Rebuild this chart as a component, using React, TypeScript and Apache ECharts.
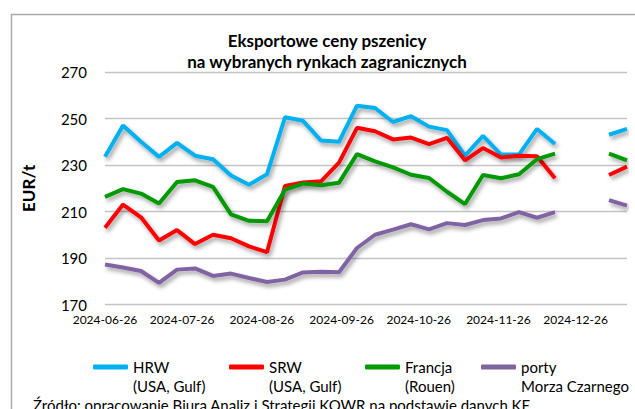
import React, { useEffect, useRef } from "react";
import * as echarts from "echarts";

const dates = [
  "2024-06-26", "2024-07-03", "2024-07-10", "2024-07-17", "2024-07-24", "2024-07-31",
  "2024-08-07", "2024-08-14", "2024-08-21", "2024-08-28", "2024-09-04", "2024-09-11",
  "2024-09-18", "2024-09-25", "2024-10-02", "2024-10-09", "2024-10-16", "2024-10-23",
  "2024-10-30", "2024-11-06", "2024-11-13", "2024-11-20", "2024-11-27", "2024-12-04",
  "2024-12-11", "2024-12-18", "2024-12-25", "2025-01-01", "2025-01-08", "2025-01-15",
];

const hrw = [233.5, 247, 240, 233.5, 239.5, 234, 232.5, 225.5, 221.5, 226, 250.5, 249, 240.5, 240, 255.5, 254.5, 248.5, 251, 246.5, 245, 234, 242.5, 234.5, 234.5, 245.5, 239, null, null, 243, 245.5];
const srw = [203, 213, 207.5, 197.5, 202, 196, 200, 198.5, 195, 192.5, 221, 222.5, 223, 231, 246, 244.5, 241, 241.8, 239, 241.7, 232, 237.3, 233.2, 234, 233.8, 224.3, null, null, 225.7, 229.3];
const francja = [216.3, 219.6, 217.7, 213.4, 222.7, 223.4, 220.6, 208.8, 206, 205.8, 219.4, 222, 221.3, 222.4, 234.7, 231.6, 229, 225.8, 224.4, 218.5, 213.2, 225.7, 224.3, 226, 232.5, 234.9, null, null, 234.9, 232];
const porty = [187.2, 185.9, 184.4, 179.3, 185, 185.5, 182.3, 183.3, 181.4, 179.7, 180.7, 183.8, 184.1, 183.9, 194.3, 200, 202.2, 204.5, 202.3, 205, 204.2, 206.3, 207, 209.7, 207.3, 209.7, null, null, 214.9, 212.5];

const seriesNames = ["HRW\n(USA, Gulf)", "SRW\n(USA, Gulf)", "Francja\n(Rouen)", "porty\nMorza Czarnego"];
const seriesColors = ["#00B0F0", "#FF0000", "#009A00", "#8064A2"];
const seriesValues = [hrw, srw, francja, porty];

const axisStart = "2024-06-26";
const axisEnd = "2025-01-15";

const titleText = "Eksportowe ceny pszenicy\nna wybranych rynkach zagranicznych";
const sourceText = "Źródło: opracowanie Biura Analiz i Strategii KOWR na podstawie danych KE";

function buildDays(start: string, end: string): string[] {
  const out: string[] = [];
  const s = Date.parse(start + "T00:00:00Z");
  const e = Date.parse(end + "T00:00:00Z");
  for (let t = s; t <= e; t += 86400000) out.push(new Date(t).toISOString().slice(0, 10));
  return out;
}

const FONT = "Lato, 'Open Sans', sans-serif";

export default function App() {
  const ref = useRef<HTMLDivElement>(null);
  useEffect(() => {
    if (!ref.current) return;
    const chart = echarts.init(ref.current, undefined, { renderer: "svg" });
    const days = buildDays(axisStart, axisEnd);
    const legendLefts = [93, 229, 365, 481];
    const option: any = {
      animation: false,
      backgroundColor: "#ffffff",
      textStyle: { fontFamily: FONT },
      grid: { left: 105, right: 8, top: 72, bottom: 104.5 },
      xAxis: {
        type: "category",
        data: days,
        boundaryGap: false,
        axisLine: { show: false },
        axisTick: { show: false },
        splitLine: { show: false },
        axisLabel: {
          interval: (_i: number, v: string) => v.endsWith("-26"),
          fontSize: 12,
          color: "#000",
          margin: 9,
          fontFamily: FONT,
        },
      },
      yAxis: {
        type: "value",
        min: 170,
        max: 270,
        interval: 20,
        name: "EUR/t",
        nameLocation: "middle",
        nameGap: 68,
        nameTextStyle: { fontSize: 17, fontWeight: "bold", color: "#000", fontFamily: FONT },
        axisLine: { show: false },
        axisTick: { show: false },
        axisLabel: { fontSize: 15, color: "#000", margin: 18, fontFamily: FONT },
        splitLine: { lineStyle: { color: "#c4c4c4", width: 1.3 } },
      },
      legend: seriesNames.map((n, i) => ({
        data: [n],
        left: legendLefts[i],
        top: 338.5,
        padding: 0,
        icon: "roundRect",
        itemWidth: 35,
        itemHeight: 5,
        selectedMode: false,
        formatter: (name: string) => " \n" + name,
        textStyle: {
          fontSize: 15,
          color: "#000",
          lineHeight: 19,
          fontFamily: FONT,
        },
      })),
      series: seriesNames.map((n, i) => ({
        name: n,
        type: "line",
        symbol: "none",
        connectNulls: false,
        color: seriesColors[i],
        lineStyle: {
          width: 4,
          color: seriesColors[i],
          shadowColor: "rgba(0,0,0,0.38)",
          shadowBlur: 4,
          shadowOffsetX: 2,
          shadowOffsetY: 3,
        },
        data: dates.map((d, k) => [d, seriesValues[i][k] == null ? "-" : seriesValues[i][k]]),
      })),
      graphic: [
        {
          type: "rect",
          z: -10,
          shape: { x: 11.5, y: 14.5, width: 700, height: 500 },
          style: { fill: "none", stroke: "#ababab", lineWidth: 1.5 },
        },
        {
          type: "text",
          x: 327,
          y: 30,
          style: {
            text: titleText,
            align: "center",
            verticalAlign: "top",
            font: "bold 17px " + FONT,
            lineHeight: 21,
            fill: "#000",
          },
        },
        {
          type: "text",
          x: 33,
          y: 397,
          style: {
            text: sourceText,
            align: "left",
            verticalAlign: "top",
            font: "15px " + FONT,
            fill: "#000",
          },
        },
      ],
    };
    chart.setOption(option);
    return () => chart.dispose();
  }, []);
  return (
    <div
      ref={ref}
      style={{ position: "absolute", left: 0, top: 0, width: 635, height: 409 }}
    />
  );
}
